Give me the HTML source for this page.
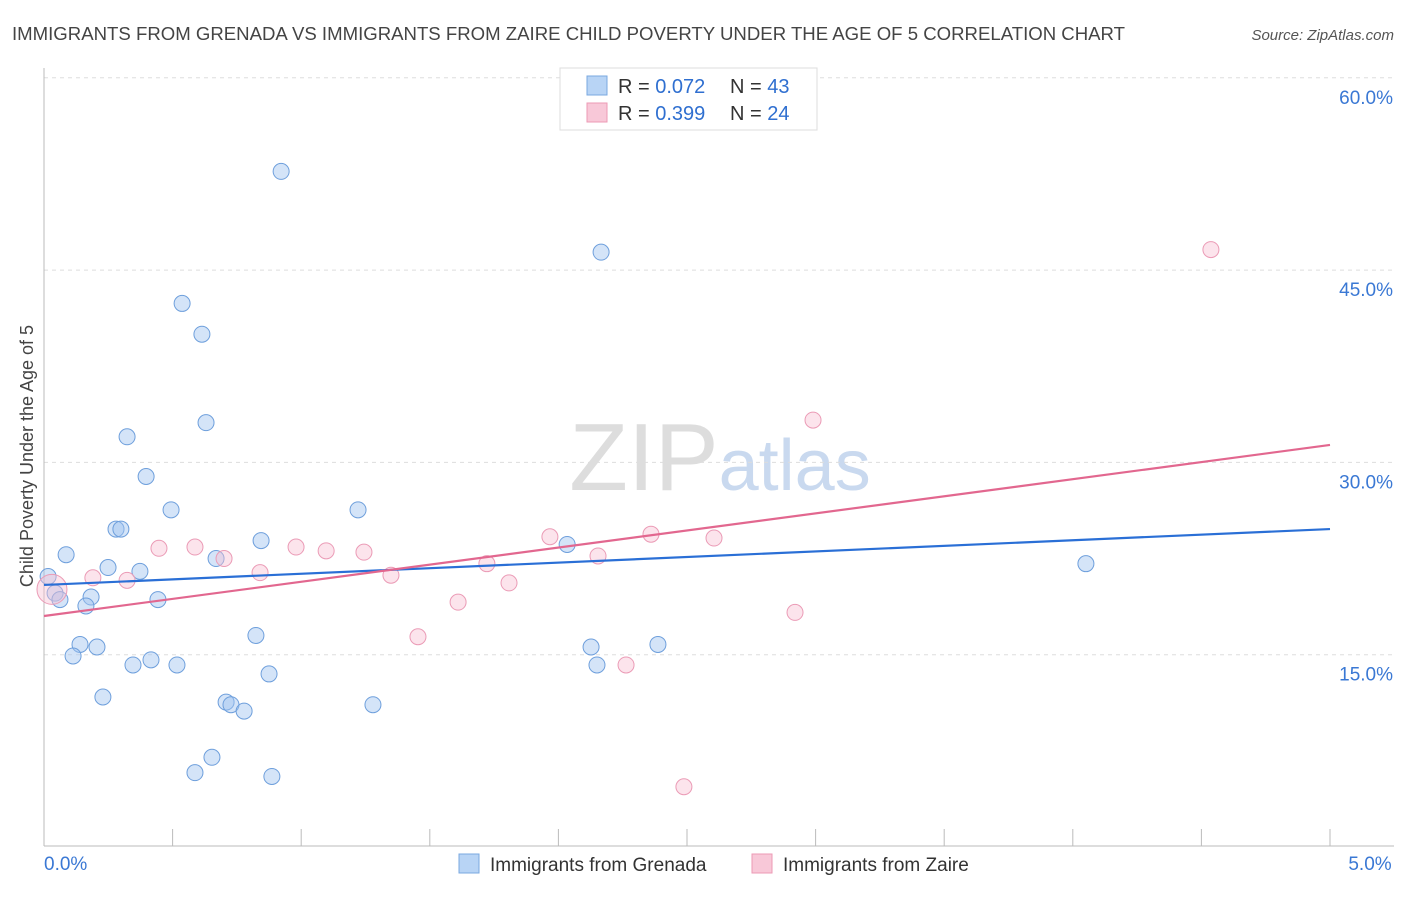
<!DOCTYPE html>
<html><head><meta charset="utf-8"><style>
body{margin:0;background:#fff;font-family:"Liberation Sans",sans-serif;}
svg text{font-family:"Liberation Sans",sans-serif;}
</style></head><body>
<svg id="chart" width="1406" height="892" xmlns="http://www.w3.org/2000/svg">
<text x="12" y="40" font-size="18.6" fill="#444">IMMIGRANTS FROM GRENADA VS IMMIGRANTS FROM ZAIRE CHILD POVERTY UNDER THE AGE OF 5 CORRELATION CHART</text>
<text x="1394" y="40" font-size="15" fill="#555" text-anchor="end" font-style="italic">Source: ZipAtlas.com</text>
<text x="720" y="490" font-size="96" text-anchor="middle" fill="#ddd" font-family="Liberation Serif"><tspan fill="#ddd">ZIP</tspan><tspan fill="#c9d9ef" font-family="Liberation Sans" font-size="72">atlas</tspan></text>
<g id="grid"></g>
<g id="axes"></g>
<g id="marks"></g>
<text transform="translate(33,456) rotate(-90)" font-size="18" fill="#444" text-anchor="middle">Child Poverty Under the Age of 5</text>
<g>
<rect x="560" y="68" width="257" height="62" fill="#fff" stroke="#ddd"/>
<rect x="587" y="76" width="20" height="19" fill="#b8d4f5" stroke="#7aa8e0"/>
<rect x="587" y="103" width="20" height="19" fill="#f8c8d8" stroke="#ec9ab5"/>
<text x="618" y="93" font-size="20" fill="#333">R = <tspan fill="#2f6fd0">0.072</tspan></text>
<text x="730" y="93" font-size="20" fill="#333">N = <tspan fill="#2f6fd0">43</tspan></text>
<text x="618" y="120" font-size="20" fill="#333">R = <tspan fill="#2f6fd0">0.399</tspan></text>
<text x="730" y="120" font-size="20" fill="#333">N = <tspan fill="#2f6fd0">24</tspan></text>
</g>
<g>
<rect x="459" y="854" width="20" height="19" fill="#b8d4f5" stroke="#7aa8e0"/>
<text x="490" y="871" font-size="19" fill="#333">Immigrants from Grenada</text>
<rect x="752" y="854" width="20" height="19" fill="#f8c8d8" stroke="#ec9ab5"/>
<text x="783" y="871" font-size="19" fill="#333">Immigrants from Zaire</text>
</g>
</svg>
<script>
const yTicks=[15,30,45,60];
const yTickLabels=["15.0%","30.0%","45.0%","60.0%"];
const xTickLabels=["0.0%","5.0%"];
const grenadaX=[0.922,2.166,0.537,0.614,0.630,0.323,0.397,0.494,1.221,0.280,0.299,0.844,2.034,0.086,0.669,0.249,0.373,0.016,0.043,0.183,0.062,0.443,0.163,4.051,0.140,0.206,0.113,0.824,2.127,2.387,0.346,0.416,0.517,2.150,0.875,0.229,0.708,0.727,0.778,1.279,0.653,0.587,0.886];
const grenadaY=[52.7,46.4,42.4,40.0,33.1,32.0,28.9,26.3,26.3,24.8,24.8,23.9,23.6,22.8,22.5,21.8,21.5,21.1,19.8,19.5,19.3,19.3,18.8,22.1,15.8,15.6,14.9,16.5,15.6,15.8,14.2,14.6,14.2,14.2,13.5,11.7,11.3,11.1,10.6,11.1,7.0,5.8,5.5];
const zaireX=[4.537,2.990,0.447,0.587,0.700,0.980,1.097,1.244,1.967,2.360,2.605,2.154,1.722,0.840,1.349,1.808,0.190,0.323,1.610,2.920,1.454,2.263,2.488,0.031];
const zaireY=[46.6,33.3,23.3,23.4,22.5,23.4,23.1,23.0,24.2,24.4,24.1,22.7,22.1,21.4,21.2,20.6,21.0,20.8,19.1,18.3,16.4,14.2,4.7,20.1];
const trendX=[0,5];
const grenadaTrend=[20.44,24.8];
const zaireTrend=[18.02,31.36];
const NS="http://www.w3.org/2000/svg";
const sx=v=>44+v/5*1286, sy=v=>847-v/15*192.3;
function mk(tag,attrs,parent){const e=document.createElementNS(NS,tag);for(const k in attrs)e.setAttribute(k,attrs[k]);document.getElementById(parent).appendChild(e);return e;}
yTicks.forEach((t,i)=>{
 const l=mk('line',{x1:44,x2:1394,y1:sy(t),y2:sy(t),stroke:'#ddd','stroke-dasharray':'4,4'},'grid');
 
 
 const tx=mk('text',{x:1393,y:sy(t)+26,'font-size':19,fill:'#3a78d4','text-anchor':'end'},'axes');tx.textContent=yTickLabels[i];
 
 
});
const ax=mk('line',{x1:44,x2:44,y1:68,y2:846,stroke:'#bbb'},'axes');


const bx=mk('line',{x1:44,x2:1394,y1:846,y2:846,stroke:'#bbb'},'axes');


for(let i=0;i<=10;i++){const t=mk('line',{x1:sx(i*0.5),x2:sx(i*0.5),y1:829,y2:846,stroke:'#bbb'},'axes');
 
 }
[[0,'start',44],[5,'middle',1370]].forEach((d,i)=>{const t=mk('text',{x:d[2],y:870,'font-size':19,fill:'#3a78d4','text-anchor':d[1]},'axes');t.textContent=xTickLabels[i];
 
 });
grenadaX.forEach((x,i)=>{const c=mk('circle',{cx:sx(x),cy:sy(grenadaY[i]),r:8,fill:'rgba(160,196,240,0.45)',stroke:'#6e9fdc','stroke-width':1},'marks');
 
 });
zaireX.forEach((x,i)=>{const c=mk('circle',{cx:sx(x),cy:sy(zaireY[i]),r:i==23?15:8,fill:'rgba(248,190,210,0.42)',stroke:'#eb9bb6','stroke-width':1},'marks');
 
 });
const tb=mk('line',{x1:sx(trendX[0]),x2:sx(trendX[1]),y1:sy(grenadaTrend[0]),y2:sy(grenadaTrend[1]),stroke:'#2a6fd6','stroke-width':2.2},'marks');


const tp=mk('line',{x1:sx(trendX[0]),x2:sx(trendX[1]),y1:sy(zaireTrend[0]),y2:sy(zaireTrend[1]),stroke:'#e2678f','stroke-width':2.2},'marks');


</script>
</body></html>
